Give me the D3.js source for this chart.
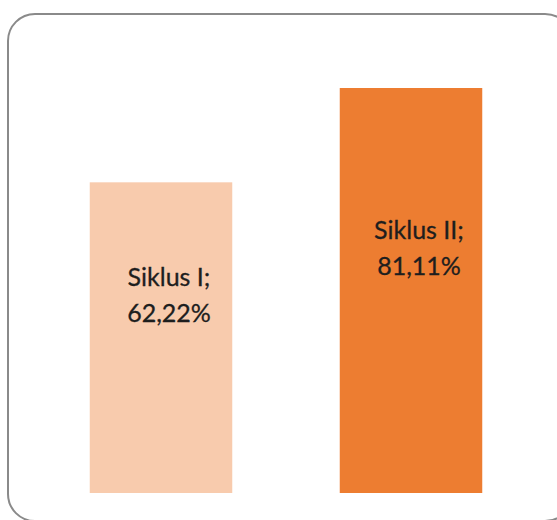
<!DOCTYPE html>
<html>
<head>
<meta charset="utf-8">
<script src="https://cdn.jsdelivr.net/npm/d3@7"></script>
<style>
  html, body { margin: 0; padding: 0; background: #fff; }
  svg { display: block; }
</style>
</head>
<body>
<div id="chart"></div>
<script>
// Chart data
const categories = ['Siklus I', 'Siklus II'];
const values = [62.22, 81.11];
const valueLabels = ['62,22%', '81,11%'];
const barColors = ['#F8CBAD', '#ED7D31'];

const W = 557, H = 520;

const svg = d3.select('#chart')
  .append('svg')
  .attr('width', W)
  .attr('height', H);

// chart frame (rounded border, partly cut off on the right/bottom)
svg.append('rect')
  .attr('x', 8)
  .attr('y', 14)
  .attr('width', 564)
  .attr('height', 507)
  .attr('rx', 27)
  .attr('ry', 27)
  .attr('fill', '#fff')
  .attr('stroke', '#8a8a8a')
  .attr('stroke-width', 2);

// scales
const x = d3.scaleBand()
  .domain(categories)
  .range([36, 536])
  .paddingInner(0.43)
  .paddingOuter(0.215);

const y = d3.scaleLinear()
  .domain([0, 81.11])
  .range([493, 88]);

const bars = svg.append('g').attr('class', 'bars');

bars.selectAll('rect')
  .data(categories)
  .join('rect')
  .attr('x', d => x(d))
  .attr('width', x.bandwidth())
  .attr('y', (d, i) => y(values[i]))
  .attr('height', (d, i) => y(0) - y(values[i]))
  .attr('fill', (d, i) => barColors[i]);

// data labels: "category;" on first line, value on second
const labels = svg.append('g').attr('class', 'labels');

categories.forEach((c, i) => {
  const cx = x(c) + x.bandwidth() / 2 + 8;
  // first baseline sits a little above the middle of the bar
  const base = (y(0) + y(values[i])) / 2 - 52;
  const t = labels.append('text')
    .attr('x', cx)
    .attr('y', base)
    .attr('text-anchor', 'middle')
    .attr('font-family', 'Lato, "Open Sans", sans-serif')
    .attr('font-size', '25px')
    .attr('fill', '#1e1e1e')
    .attr('stroke', '#1e1e1e')
    .attr('stroke-width', 0.3);
  t.append('tspan')
    .attr('x', cx)
    .text(c + ';');
  t.append('tspan')
    .attr('x', cx)
    .attr('dy', '1.45em')
    .text(valueLabels[i]);
});
</script>
</body>
</html>
